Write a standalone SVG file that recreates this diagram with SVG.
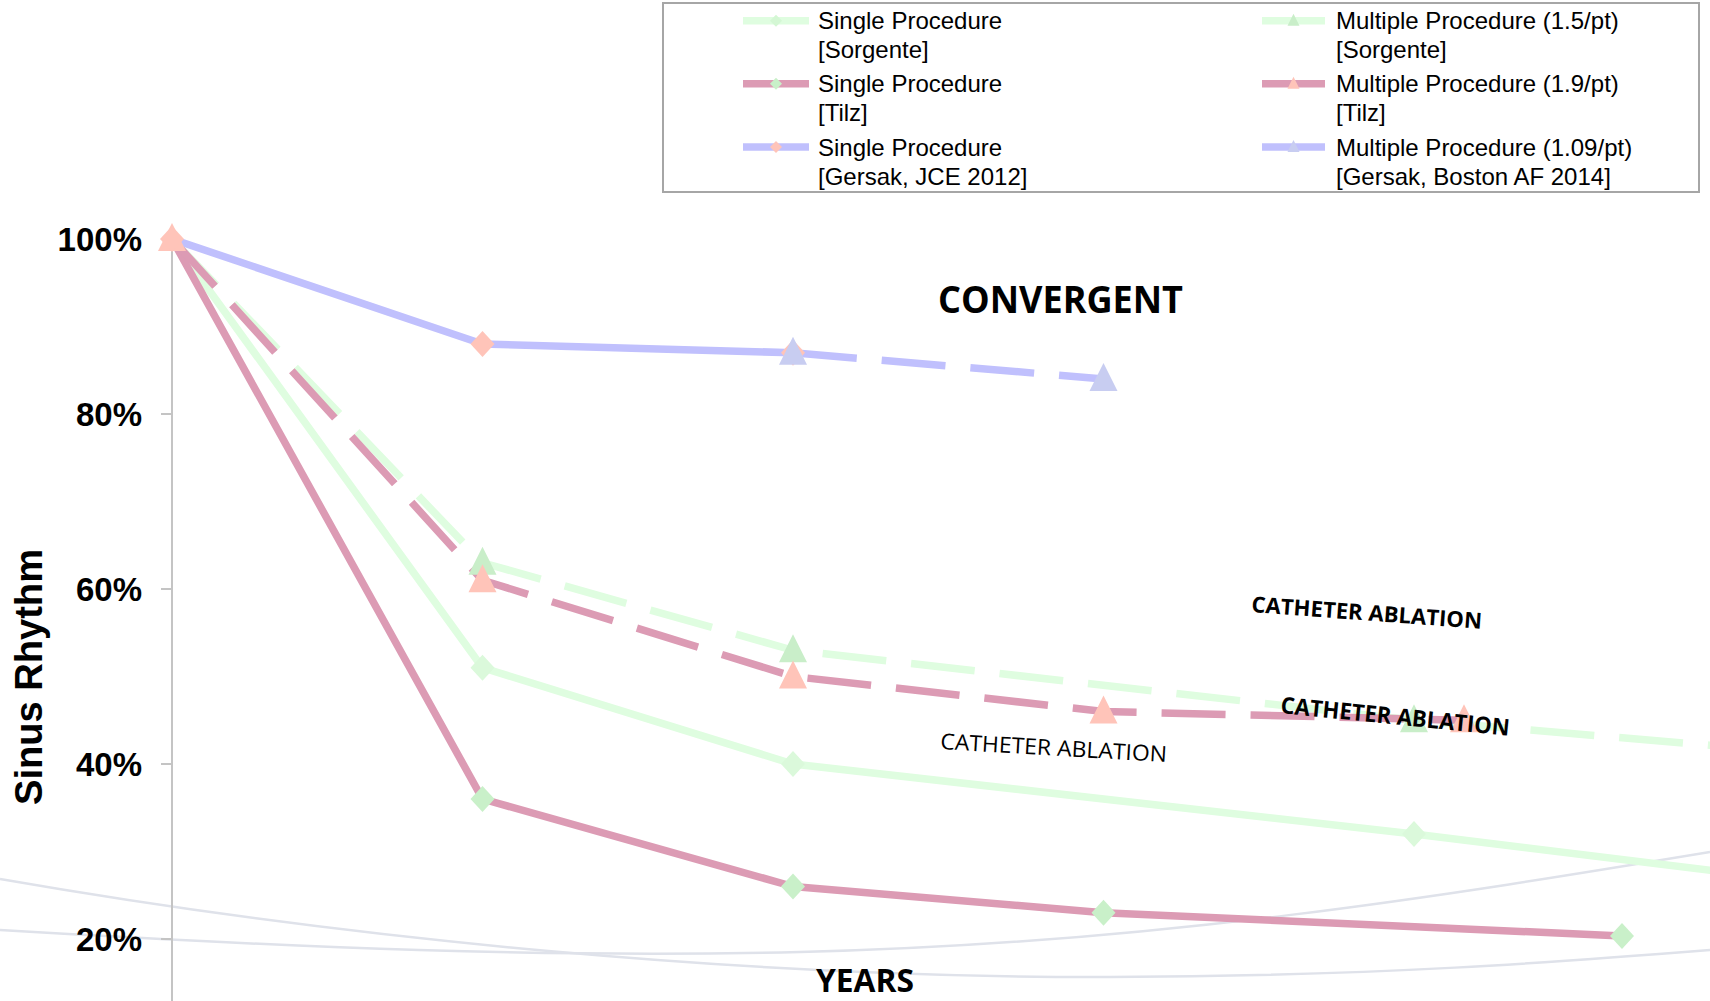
<svg xmlns="http://www.w3.org/2000/svg" xmlns:xlink="http://www.w3.org/1999/xlink" width="1710" height="1001" viewBox="0 0 1710 1001">
<style>
.bg{fill:none;stroke:#dfe2ea;stroke-width:2.5}
.ln{fill:none;stroke-width:7.5;stroke-linejoin:round}
.dash{stroke-dasharray:64 25}
.green{stroke:#dffde0}
.pink{stroke:#dc9bb4}
.lav{stroke:#c0c0fd}
.tick{font-family:"Liberation Sans",Arial,sans-serif;font-weight:bold;font-size:33px;fill:#000;text-anchor:end}
.leg{font-family:"Liberation Sans",Arial,sans-serif;font-size:24px;fill:#000}
.cal{font-family:"Open Sans","Noto Sans",sans-serif;fill:#000}
</style>
<defs>
<path id="dia" d="M0,-13 L12,0 L0,13 L-12,0Z"/>
<path id="tri" d="M0,-16 L14,12 L-14,12Z"/>
<path id="diaS" d="M0,-6 L6,0 L0,6 L-6,0Z"/>
<path id="triS" d="M0,-7 L6,5 L-6,5Z"/>
</defs>
<rect x="0" y="0" width="1710" height="1001" fill="#ffffff"/>

<g id="background-curves">
<path class="bg" d="M0,879 C350,940 750,978 1110,977 C1380,976 1560,962 1710,950"/>
<path class="bg" d="M0,930 C300,948 550,958 800,952 C1150,944 1450,895 1710,852"/>
</g>

<g id="axis">
<line x1="172" y1="239" x2="172" y2="1001" stroke="#c4c4c4" stroke-width="2"/>
<g stroke="#c4c4c4" stroke-width="2">
<line x1="161" y1="414" x2="172" y2="414"/>
<line x1="161" y1="589" x2="172" y2="589"/>
<line x1="161" y1="764" x2="172" y2="764"/>
<line x1="161" y1="939" x2="172" y2="939"/>
</g>
<text class="tick" x="142" y="251">100%</text>
<text class="tick" x="142" y="426">80%</text>
<text class="tick" x="142" y="601">60%</text>
<text class="tick" x="142" y="776">40%</text>
<text class="tick" x="142" y="951">20%</text>
<text x="0" y="0" transform="translate(42,677) rotate(-90)" text-anchor="middle" font-family="Liberation Sans, Arial, sans-serif" font-weight="bold" font-size="38" textLength="256" lengthAdjust="spacingAndGlyphs">Sinus Rhythm</text>
</g>

<g id="connectors">
<path id="s-single-sorgente" class="ln green" d="M172,239 L482.5,667.75 L793,764 L1414,834 L1724.5,872"/>
<path id="s-multi-sorgente" class="ln green dash" d="M172,239 L482.5,562.75 L793,650.25 L1414,720.25 L1724.5,746.5"/>
<path id="s-single-tilz" class="ln pink" d="M172,239 L482.5,799 L793,886.5 L1103.5,912.75 L1622,936"/>
<path id="s-multi-tilz" class="ln pink dash" d="M172,239 L482.5,580.25 L793,676.5 L1103.5,711.5 L1464,720.25"/>
<path id="s-single-gersak" class="ln lav" d="M172,239 L482.5,344 L793,352.75"/>
<path id="s-multi-gersak" class="ln lav dash" d="M793,352.75 L1103.5,379"/>
</g>

<g id="markers">
<g fill="#dbf9db">
<use xlink:href="#dia" x="482.5" y="667.75"/>
<use xlink:href="#dia" x="793" y="764"/>
<use xlink:href="#dia" x="1414" y="834"/>
</g>
<g fill="#c9f0c9">
<use xlink:href="#dia" x="482.5" y="799"/>
<use xlink:href="#dia" x="793" y="886.5"/>
<use xlink:href="#dia" x="1103.5" y="912.75"/>
<use xlink:href="#dia" x="1622" y="936"/>
</g>
<g fill="#c9eec9">
<use xlink:href="#tri" x="482.5" y="562.75"/>
<use xlink:href="#tri" x="793" y="650.25"/>
<use xlink:href="#tri" x="1414" y="720.25"/>
</g>
<g fill="#ffc4b9">
<use xlink:href="#tri" x="172" y="239"/>
<use xlink:href="#tri" x="482.5" y="580.25"/>
<use xlink:href="#tri" x="793" y="676.5"/>
<use xlink:href="#tri" x="1103.5" y="711.5"/>
<use xlink:href="#tri" x="1464" y="720.25"/>
<use xlink:href="#dia" x="172" y="239"/>
<use xlink:href="#dia" x="482.5" y="344"/>
<use xlink:href="#dia" x="793" y="352.75"/>
</g>
<g fill="#c8cdf1">
<use xlink:href="#tri" x="793" y="352.75"/>
<use xlink:href="#tri" x="1103.5" y="379"/>
</g>
</g>

<g id="labels">
<text class="cal" x="938" y="313" font-size="38" font-weight="bold" textLength="245" lengthAdjust="spacingAndGlyphs">CONVERGENT</text>
<text class="cal" x="1251" y="612" font-size="22" font-weight="bold" textLength="231" lengthAdjust="spacingAndGlyphs" transform="rotate(4.2 1251 612)">CATHETER ABLATION</text>
<text class="cal" x="1280" y="713" font-size="23" font-weight="bold" textLength="230" lengthAdjust="spacingAndGlyphs" transform="rotate(5.7 1280 713)">CATHETER ABLATION</text>
<text class="cal" x="940" y="749" font-size="22" textLength="227" lengthAdjust="spacingAndGlyphs" transform="rotate(3.3 940 749)">CATHETER ABLATION</text>
<text class="cal" x="816" y="992" font-size="32" font-weight="bold" textLength="98" lengthAdjust="spacingAndGlyphs">YEARS</text>
</g>

<g id="legend">
<rect x="663" y="3" width="1036" height="189" fill="#ffffff" stroke="#a6a6a6" stroke-width="2"/>
<g id="leg-single-sorgente">
<line x1="743" y1="20.7" x2="809" y2="20.7" stroke="#dffde0" stroke-width="7.5"/>
<use xlink:href="#diaS" x="776" y="20.7" fill="#d4f7d4"/>
<text class="leg" x="818" y="29">Single Procedure</text>
<text class="leg" x="818" y="58">[Sorgente]</text>
</g>
<g id="leg-single-tilz">
<line x1="743" y1="83.7" x2="809" y2="83.7" stroke="#dc9bb4" stroke-width="7.5"/>
<use xlink:href="#diaS" x="776" y="83.7" fill="#c9f0c9"/>
<text class="leg" x="818" y="92">Single Procedure</text>
<text class="leg" x="818" y="121">[Tilz]</text>
</g>
<g id="leg-single-gersak">
<line x1="743" y1="147" x2="809" y2="147" stroke="#c0c0fd" stroke-width="7.5"/>
<use xlink:href="#diaS" x="776" y="147" fill="#ffc4b9"/>
<text class="leg" x="818" y="155.5">Single Procedure</text>
<text class="leg" x="818" y="184.5">[Gersak, JCE 2012]</text>
</g>
<g id="leg-multi-sorgente">
<line x1="1262" y1="20.7" x2="1325" y2="20.7" stroke="#dffde0" stroke-width="7.5"/>
<use xlink:href="#triS" x="1293.5" y="20.7" fill="#c9eec9"/>
<text class="leg" x="1336" y="29">Multiple Procedure (1.5/pt)</text>
<text class="leg" x="1336" y="58">[Sorgente]</text>
</g>
<g id="leg-multi-tilz">
<line x1="1262" y1="83.7" x2="1325" y2="83.7" stroke="#dc9bb4" stroke-width="7.5"/>
<use xlink:href="#triS" x="1293.5" y="83.7" fill="#ffc4b9"/>
<text class="leg" x="1336" y="92">Multiple Procedure (1.9/pt)</text>
<text class="leg" x="1336" y="121">[Tilz]</text>
</g>
<g id="leg-multi-gersak">
<line x1="1262" y1="147" x2="1325" y2="147" stroke="#c0c0fd" stroke-width="7.5"/>
<use xlink:href="#triS" x="1293.5" y="147" fill="#c8cdf1"/>
<text class="leg" x="1336" y="155.5">Multiple Procedure (1.09/pt)</text>
<text class="leg" x="1336" y="184.5">[Gersak, Boston AF 2014]</text>
</g>
</g>
</svg>
